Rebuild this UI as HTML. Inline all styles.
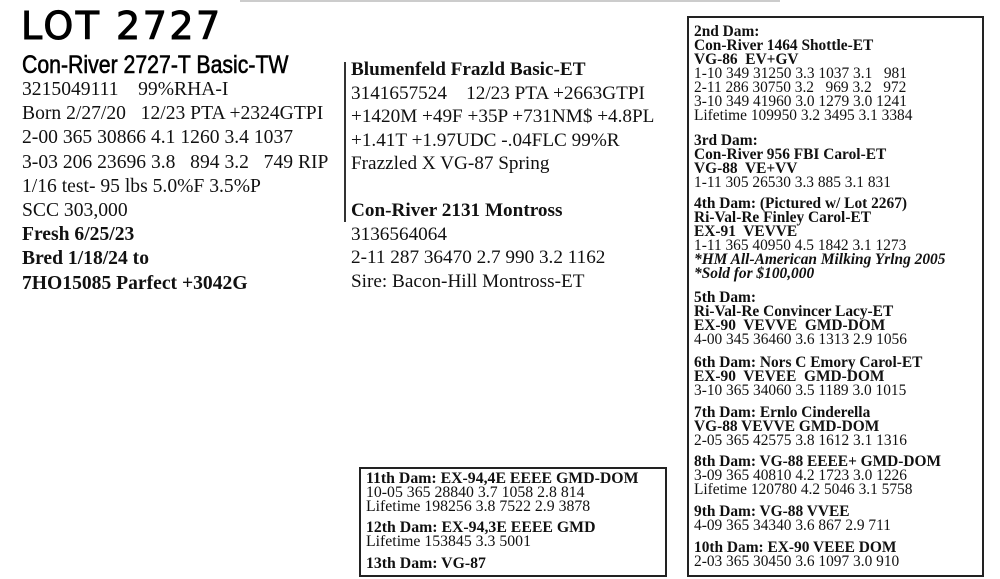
<!DOCTYPE html>
<html><head><meta charset="utf-8"><style>
body{margin:0;width:1000px;height:579px;background:#fff;position:relative;overflow:hidden;font-family:"Liberation Serif",serif;color:#111}
.a{position:absolute;white-space:pre}
.l{font-size:19.6px;line-height:24.2px}
.m{font-size:19.2px;line-height:23.5px}
.r{font-size:15.4px;line-height:14px}
b{font-weight:bold}
</style></head><body>
<div class="a" style="left:240px;top:0;width:540px;height:2px;background:#ccc"></div>
<div class="a" style="left:21px;top:4px;font-family:'DejaVu Sans',sans-serif;font-size:38px;letter-spacing:2.5px;line-height:44px;color:#000;-webkit-text-stroke:1px #000">LOT 2727</div>
<div class="a" style="left:22px;top:51px;font-family:'Liberation Sans',sans-serif;font-size:25px;line-height:28px;transform:scaleX(0.85);transform-origin:left top;color:#000;-webkit-text-stroke:0.6px #000">Con-River 2727-T Basic-TW</div>
<div class="a l" style="left:22px;top:78px">3215049111    99%RHA-I
Born 2/27/20   12/23 PTA +2324GTPI
2-00 365 30866 4.1 1260 3.4 1037
3-03 206 23696 3.8   894 3.2   749 RIP
1/16 test- 95 lbs 5.0%F 3.5%P
SCC 303,000
<b>Fresh 6/25/23
Bred 1/18/24 to
7HO15085 Parfect +3042G</b></div>
<div class="a" style="left:344px;top:62px;width:2px;height:160px;background:#333"></div>
<div class="a m" style="left:351px;top:58px"><b>Blumenfeld Frazld Basic-ET</b>
3141657524    12/23 PTA +2663GTPI
+1420M +49F +35P +731NM$ +4.8PL
+1.41T +1.97UDC -.04FLC 99%R
Frazzled X VG-87 Spring

<b>Con-River 2131 Montross</b>
3136564064
2-11 287 36470 2.7 990 3.2 1162
Sire: Bacon-Hill Montross-ET</div>

<div class="a" style="left:687px;top:16px;width:293px;height:557px;border:2px solid #222"></div>
<div class="a r" style="left:694px;top:25px"><b>2nd Dam:
Con-River 1464 Shottle-ET
VG-86  EV+GV</b>
1-10 349 31250 3.3 1037 3.1   981
2-11 286 30750 3.2   969 3.2   972
3-10 349 41960 3.0 1279 3.0 1241
Lifetime 109950 3.2 3495 3.1 3384</div>
<div class="a r" style="left:694px;top:134px"><b>3rd Dam:
Con-River 956 FBI Carol-ET
VG-88  VE+VV</b>
1-11 305 26530 3.3 885 3.1 831</div>
<div class="a r" style="left:694px;top:197px"><b>4th Dam: (Pictured w/ Lot 2267)
Ri-Val-Re Finley Carol-ET
EX-91  VEVVE</b>
1-11 365 40950 4.5 1842 3.1 1273
<b><i>*HM All-American Milking Yrlng 2005
*Sold for $100,000</i></b></div>
<div class="a r" style="left:694px;top:291px"><b>5th Dam:
Ri-Val-Re Convincer Lacy-ET
EX-90  VEVVE  GMD-DOM</b>
4-00 345 36460 3.6 1313 2.9 1056</div>
<div class="a r" style="left:694px;top:356px"><b>6th Dam: Nors C Emory Carol-ET
EX-90  VEVEE  GMD-DOM</b>
3-10 365 34060 3.5 1189 3.0 1015</div>
<div class="a r" style="left:694px;top:406px"><b>7th Dam: Ernlo Cinderella
VG-88 VEVVE GMD-DOM</b>
2-05 365 42575 3.8 1612 3.1 1316</div>
<div class="a r" style="left:694px;top:455px"><b>8th Dam: VG-88 EEEE+ GMD-DOM</b>
3-09 365 40810 4.2 1723 3.0 1226
Lifetime 120780 4.2 5046 3.1 5758</div>
<div class="a r" style="left:694px;top:505px"><b>9th Dam: VG-88 VVEE</b>
4-09 365 34340 3.6 867 2.9 711</div>
<div class="a r" style="left:694px;top:541px"><b>10th Dam: EX-90 VEEE DOM</b>
2-03 365 30450 3.6 1097 3.0 910</div>

<div class="a" style="left:359px;top:467px;width:304px;height:106px;border:2px solid #222"></div>
<div class="a r" style="left:366px;top:472px;font-size:15.8px"><b>11th Dam: EX-94,4E EEEE GMD-DOM</b>
10-05 365 28840 3.7 1058 2.8 814
Lifetime 198256 3.8 7522 2.9 3878</div>
<div class="a r" style="left:366px;top:521px;font-size:15.8px"><b>12th Dam: EX-94,3E EEEE GMD</b>
Lifetime 153845 3.3 5001</div>
<div class="a r" style="left:366px;top:557px;font-size:15.8px"><b>13th Dam: VG-87</b></div>
</body></html>
